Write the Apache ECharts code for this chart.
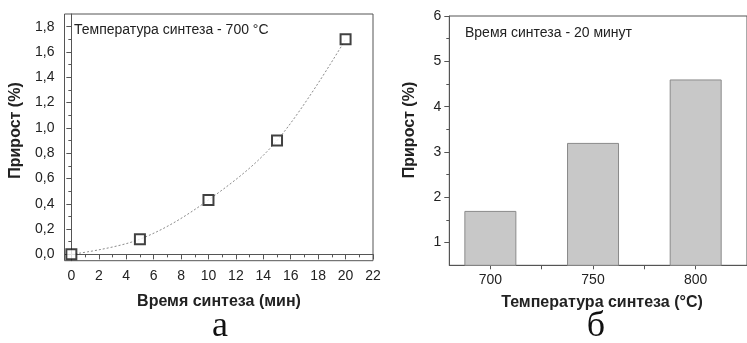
<!DOCTYPE html>
<html>
<head>
<meta charset="utf-8">
<script src="https://cdn.jsdelivr.net/npm/echarts@6/dist/echarts.min.js"></script>
<style>
html,body{margin:0;padding:0;background:#fff;}
#chart{width:747px;height:343px;}
</style>
</head>
<body>
<div id="chart"></div>
<script>
// Left panel (а): growth vs synthesis time at 700 °C
const timeMin = [0, 5, 10, 15, 20];
const growthA = [0, 0.12, 0.43, 0.90, 1.70];
const xTicksA = [0, 2, 4, 6, 8, 10, 12, 14, 16, 18, 20, 22];
const xMinorA = [1, 3, 5, 7, 9, 11, 13, 15, 17, 19, 21];
const yTicksA = [0, 0.2, 0.4, 0.6, 0.8, 1.0, 1.2, 1.4, 1.6, 1.8];
const yMinorA = [0.1, 0.3, 0.5, 0.7, 0.9, 1.1, 1.3, 1.5, 1.7];

// Right panel (б): growth vs synthesis temperature at 20 min
const tempC = [700, 750, 800];
const growthB = [1.7, 3.2, 4.6];
const xTicksB = [700, 725, 750, 775, 800];
const xLabelsB = [700, 750, 800];
const yTicksB = [1, 2, 3, 4, 5, 6];
const yMinorB = [1.5, 2.5, 3.5, 4.5, 5.5];

const axisColor = '#555';
const textColor = '#222';
const FONT = 'Liberation Sans, Arial, sans-serif';

const chart = echarts.init(document.getElementById('chart'), null, {renderer: 'canvas'});

function minorAxis(dim, gridIndex, min, max, values) {
  return {
    type: 'value', gridIndex, min, max,
    position: dim === 'x' ? 'bottom' : 'left',
    axisLine: {show: false},
    axisLabel: {show: false},
    splitLine: {show: false},
    axisTick: {show: true, inside: false, length: 3, customValues: values, lineStyle: {color: axisColor, width: 1}}
  };
}

const option = {
  animation: false,
  backgroundColor: '#fff',
  grid: [
    {left: 64.5, top: 14, width: 308.5, height: 246.7, show: true, borderColor: axisColor, borderWidth: 1, backgroundColor: 'transparent'},
    {left: 449.3, top: 16, width: 299, height: 249.3, show: true, borderColor: axisColor, borderWidth: 1, backgroundColor: 'transparent'}
  ],
  xAxis: [
    {
      type: 'value', gridIndex: 0, min: -0.5, max: 22,
      axisLine: {show: true, lineStyle: {color: axisColor, width: 1}},
      axisTick: {show: true, length: 5, customValues: xTicksA, lineStyle: {color: axisColor}},
      axisLabel: {customValues: xTicksA, color: textColor, fontSize: 14, fontFamily: FONT, margin: 8},
      splitLine: {show: false}
    },
    minorAxis('x', 0, -0.5, 22, xMinorA),
    {
      type: 'value', gridIndex: 1, min: 680, max: 825,
      axisLine: {show: true, lineStyle: {color: axisColor, width: 1}},
      axisTick: {show: true, length: 4, customValues: xTicksB, lineStyle: {color: axisColor}},
      axisLabel: {customValues: xLabelsB, color: textColor, fontSize: 14, fontFamily: FONT, margin: 8},
      splitLine: {show: false}
    }
  ],
  yAxis: [
    {
      type: 'value', gridIndex: 0, min: -0.05, max: 1.9,
      axisLine: {show: true, lineStyle: {color: axisColor, width: 1}},
      axisTick: {show: true, length: 5, customValues: yTicksA, lineStyle: {color: axisColor}},
      axisLabel: {customValues: yTicksA, color: textColor, fontSize: 14, fontFamily: FONT, margin: 10,
        formatter: v => v.toFixed(1).replace('.', ',')},
      splitLine: {show: false}
    },
    minorAxis('y', 0, -0.05, 1.9, yMinorA),
    {
      type: 'value', gridIndex: 1, min: 0.5, max: 6,
      axisLine: {show: true, lineStyle: {color: axisColor, width: 1}},
      axisTick: {show: true, length: 5, customValues: yTicksB, lineStyle: {color: axisColor}},
      axisLabel: {customValues: yTicksB, color: textColor, fontSize: 14, fontFamily: FONT, margin: 8},
      splitLine: {show: false}
    },
    minorAxis('y', 1, 0.5, 6, yMinorB)
  ],
  series: [
    {
      type: 'line', xAxisIndex: 0, yAxisIndex: 0,
      data: timeMin.map((t, i) => [t, growthA[i]]),
      smooth: 0.35, symbol: 'none', z: 2,
      lineStyle: {color: '#8a8a8a', width: 1, type: [2, 2]}
    },
    {
      type: 'scatter', xAxisIndex: 0, yAxisIndex: 0,
      data: timeMin.map((t, i) => [t, growthA[i]]),
      symbol: 'rect', symbolSize: 10, z: 3,
      itemStyle: {color: '#fff', borderColor: '#111', borderWidth: 2}
    },
    {
      type: 'bar', xAxisIndex: 2, yAxisIndex: 2,
      data: tempC.map((t, i) => [t, growthB[i]]),
      barWidth: 52,
      itemStyle: {color: '#c8c8c8', borderColor: '#8a8a8a', borderWidth: 1}
    }
  ],
  graphic: [
    {type: 'text', left: 74, top: 23, style: {text: 'Температура синтеза - 700 °C', fill: textColor, font: '14px ' + FONT}},
    {type: 'text', left: 465, top: 26, style: {text: 'Время синтеза - 20 минут', fill: textColor, font: '14px ' + FONT}},
    {type: 'text', x: 16, y: 130.5, rotation: Math.PI / 2,
      style: {text: 'Прирост (%)', fill: textColor, font: 'bold 16px ' + FONT, align: 'center', verticalAlign: 'middle'}},
    {type: 'text', x: 410, y: 130, rotation: Math.PI / 2,
      style: {text: 'Прирост (%)', fill: textColor, font: 'bold 16px ' + FONT, align: 'center', verticalAlign: 'middle'}},
    {type: 'text', x: 219, y: 302,
      style: {text: 'Время синтеза (мин)', fill: textColor, font: 'bold 16px ' + FONT, align: 'center', verticalAlign: 'middle'}},
    {type: 'text', x: 602, y: 303,
      style: {text: 'Температура синтеза (°C)', fill: textColor, font: 'bold 16px ' + FONT, align: 'center', verticalAlign: 'middle'}},
    {type: 'text', x: 220, y: 345,
      style: {text: 'а', fill: '#111', font: '36px "Liberation Serif", "Times New Roman", serif', align: 'center', verticalAlign: 'bottom'}},
    {type: 'text', x: 596, y: 345,
      style: {text: 'б', fill: '#111', font: '36px "Liberation Serif", "Times New Roman", serif', align: 'center', verticalAlign: 'bottom'}}
  ]
};
chart.setOption(option);
</script>
</body>
</html>
